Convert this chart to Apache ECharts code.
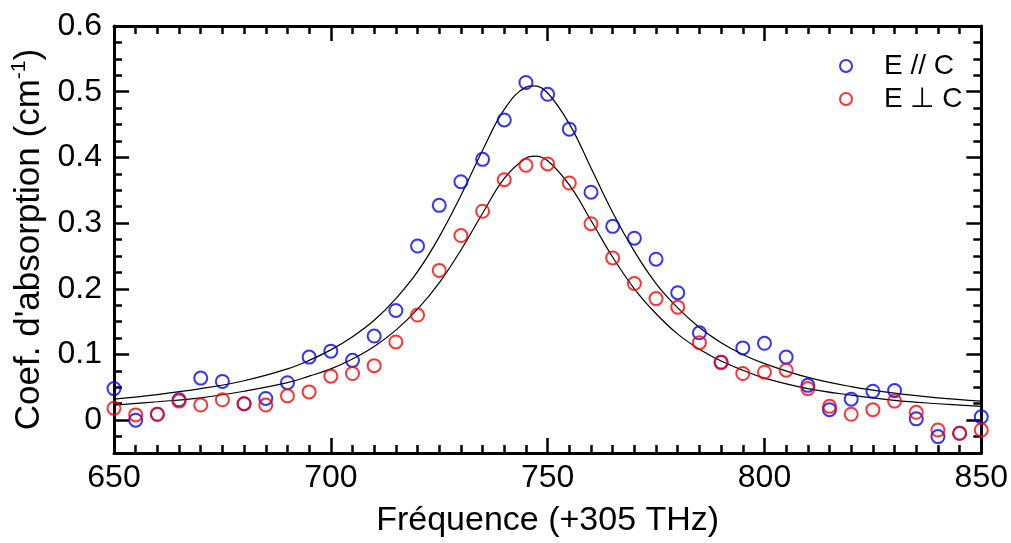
<!DOCTYPE html>
<html>
<head>
<meta charset="utf-8">
<script src="https://cdn.jsdelivr.net/npm/echarts@6/dist/echarts.min.js"></script>
<style>
  html, body { margin: 0; padding: 0; background: #fff; }
  #chart { width: 1011px; height: 543px; }
</style>
</head>
<body>
<div id="chart"></div>
<script>
// Measured frequencies (+305 THz)
const freqs = [650,655,660,665,670,675,680,685,690,695,700,705,710,715,720,725,730,735,740,745,
               750,755,760,765,770,775,780,785,790,795,800,805,810,815,820,825,830,835,840,845,850];
// E // C
const parValues = [0.048,0.000,0.009,0.031,0.064,0.059,0.025,0.033,0.057,0.096,0.105,0.091,0.128,0.167,0.265,0.327,0.363,0.397,0.457,0.514,
                   0.496,0.443,0.347,0.295,0.277,0.245,0.194,0.133,0.088,0.110,0.117,0.096,0.053,0.016,0.032,0.044,0.045,0.002,-0.025,-0.020,0.005];
// E ⊥ C
const perpValues = [0.018,0.008,0.009,0.029,0.023,0.031,0.025,0.023,0.037,0.043,0.067,0.071,0.083,0.119,0.160,0.228,0.281,0.318,0.366,0.388,
                    0.390,0.361,0.299,0.247,0.208,0.185,0.172,0.118,0.088,0.071,0.073,0.076,0.048,0.021,0.009,0.016,0.029,0.012,-0.015,-0.020,-0.015];
// Fit curves
const fitX = [650,660,670,680,690,695,700,705,710,715,720,725,730,735,740,745,747,750,755,760,765,770,775,780,785,790,795,800,810,820,830,840,850];
const parFit = [0.032,0.039,0.048,0.060,0.078,0.091,0.107,0.127,0.152,0.185,0.226,0.279,0.342,0.411,0.473,0.507,0.509,0.498,0.451,0.384,0.316,0.257,0.208,0.171,0.141,0.118,0.100,0.086,0.065,0.051,0.041,0.034,0.029];
const perpFit = [0.023,0.028,0.034,0.044,0.057,0.067,0.078,0.093,0.112,0.137,0.169,0.209,0.259,0.315,0.368,0.399,0.402,0.395,0.358,0.304,0.248,0.200,0.162,0.131,0.108,0.090,0.076,0.064,0.048,0.038,0.030,0.025,0.021];
// Axis ticks
const yMajorTicks = [0,0.1,0.2,0.3,0.4,0.5,0.6];
const yTickLabels = ['0','0.1','0.2','0.3','0.4','0.5','0.6'];
const yMinorTicks = [-0.025,0.025,0.05,0.075,0.125,0.15,0.175,0.225,0.25,0.275,0.325,0.35,0.375,0.425,0.45,0.475,0.525,0.55,0.575];
const seriesNames = ['E // C', 'E \u22A5 C'];

const pair = (xs, ys) => xs.map((x, i) => [x, ys[i]]);
const FONT = 'Liberation Sans, Arial, sans-serif';
const AXW = 3;

const chart = echarts.init(document.getElementById('chart'), null, { renderer: 'canvas' });

const xBase = {
  type: 'value', min: 650, max: 850, interval: 50,
  splitLine: { show: false },
  axisLine: { show: true, onZero: false, lineStyle: { color: '#000', width: AXW } },
  axisTick: { show: true, inside: true, length: 15, lineStyle: { color: '#000', width: 2.5 } },
  minorTick: { show: true, splitNumber: 10, length: 8, lineStyle: { color: '#000', width: 2.5 } }
};
const yBase = {
  type: 'value', min: -0.05, max: 0.6,
  splitLine: { show: false }
};
const majorTick = { show: true, inside: true, length: 15, customValues: yMajorTicks, lineStyle: { color: '#000', width: 2.5 } };
const minorTickY = { show: true, inside: true, length: 8, customValues: yMinorTicks, lineStyle: { color: '#000', width: 2.5 } };

chart.setOption({
  animation: false,
  backgroundColor: '#fff',
  grid: { left: 114, right: 26, top: 26, bottom: 90, containLabel: false },
  legend: {
    orient: 'vertical', left: 839, top: 52, padding: 0,
    itemWidth: 12, itemHeight: 12, itemGap: 5,
    data: seriesNames,
    textStyle: { fontFamily: FONT, fontSize: 28, color: '#000', lineHeight: 28, padding: [0, 0, 0, 27] }
  },
  xAxis: [
    Object.assign({}, xBase, {
      position: 'bottom',
      axisLabel: { show: true, fontFamily: FONT, fontSize: 32, color: '#000', margin: 9 },
      name: 'Fréquence (+305 THz)', nameLocation: 'middle', nameGap: 51,
      nameTextStyle: { fontFamily: FONT, fontSize: 34, color: '#000' }
    }),
    Object.assign({}, xBase, { position: 'top', axisLabel: { show: false } })
  ],
  yAxis: [
    Object.assign({}, yBase, {
      position: 'left',
      axisLine: { show: true, onZero: false, lineStyle: { color: '#000', width: AXW } },
      axisTick: majorTick,
      axisLabel: {
        show: true, customValues: yMajorTicks, fontFamily: FONT, fontSize: 32, color: '#000', margin: 12,
        formatter: (v) => { const i = yMajorTicks.findIndex(t => Math.abs(t - v) < 1e-9); return i >= 0 ? yTickLabels[i] : ''; }
      },
      name: '{a|Coef. d\'absorption (cm}{s|-1}{a|)}',
      nameLocation: 'middle', nameRotate: 90, nameGap: 56,
      nameTextStyle: {
        fontFamily: FONT, color: '#000',
        rich: {
          a: { fontFamily: FONT, fontSize: 35, color: '#000', lineHeight: 40 },
          s: { fontFamily: FONT, fontSize: 21, color: '#000', lineHeight: 22, verticalAlign: 'top' }
        }
      }
    }),
    Object.assign({}, yBase, { position: 'left', axisLine: { show: false, onZero: false }, axisTick: minorTickY, axisLabel: { show: false } }),
    Object.assign({}, yBase, { position: 'right', axisLine: { show: true, onZero: false, lineStyle: { color: '#000', width: AXW } }, axisTick: majorTick, axisLabel: { show: false } }),
    Object.assign({}, yBase, { position: 'right', axisLine: { show: false, onZero: false }, axisTick: minorTickY, axisLabel: { show: false } })
  ],
  series: [
    {
      type: 'line', data: pair(fitX, parFit), smooth: 0.4, showSymbol: false, symbol: 'none',
      lineStyle: { color: '#000', width: 1.2 }, silent: true, z: 1, legendHoverLink: false
    },
    {
      type: 'line', data: pair(fitX, perpFit), smooth: 0.4, showSymbol: false, symbol: 'none',
      lineStyle: { color: '#000', width: 1.2 }, silent: true, z: 1, legendHoverLink: false
    },
    {
      name: seriesNames[0], type: 'scatter', data: pair(freqs, parValues),
      symbol: 'circle', symbolSize: 13, z: 3,
      itemStyle: { color: 'rgba(255,255,255,0)', borderColor: '#0000ff', borderWidth: 2 }
    },
    {
      name: seriesNames[1], type: 'scatter', data: pair(freqs, perpValues),
      symbol: 'circle', symbolSize: 13, z: 4,
      itemStyle: { color: 'rgba(255,255,255,0)', borderColor: '#ff0000', borderWidth: 2 }
    }
  ]
});
</script>
</body>
</html>
